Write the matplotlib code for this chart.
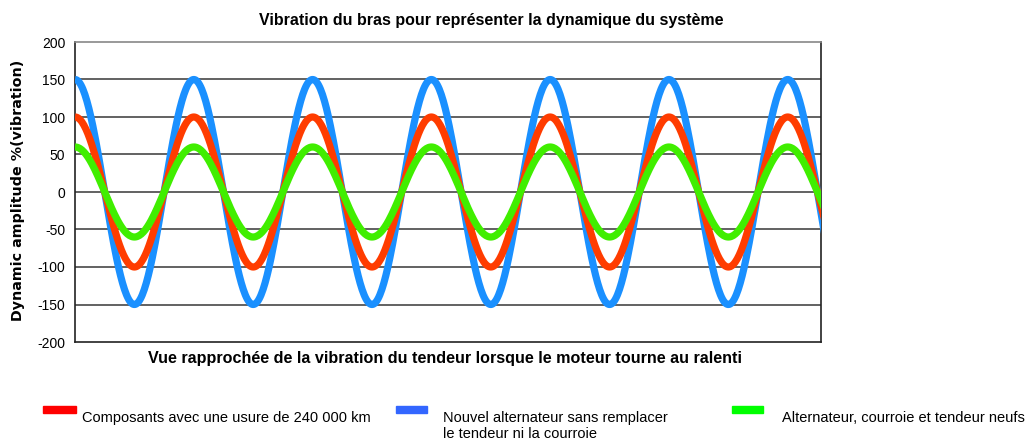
import numpy as np
import matplotlib
matplotlib.use("Agg")
import matplotlib.pyplot as plt
from matplotlib.patches import Rectangle

# ---- data ----
series_labels = ["Composants avec une usure de 240 000 km",
                 "Nouvel alternateur sans remplacer\nle tendeur ni la courroie",
                 "Alternateur, courroie et tendeur neufs"]
# extreme values (peak / trough) of each wave, one per half cycle, starting at a peak
red_extrema = [100, -100, 100, -100, 100, -100, 100, -100, 100, -100, 100, -100, 100, -100]
blue_extrema = [150, -150, 150, -150, 150, -150, 150, -150, 150, -150, 150, -150, 150, -150]
green_extrema = [60, -60, 60, -60, 60, -60, 60, -60, 60, -60, 60, -60, 60, -60]
cycles_shown = 6.28
y_ticks = [200, 150, 100, 50, 0, -50, -100, -150, -200]
grid_levels = [150, 100, 50, 0, -50, -100, -150]

line_colors = ["#ff3c00", "#1a90ff", "#40ee00"]
legend_colors = ["#ff0000", "#3366ff", "#00ff00"]

plt.rcParams['font.family'] = ['Liberation Sans', 'DejaVu Sans']

W, H = 1033, 440
fig = plt.figure(figsize=(W / 100, H / 100), dpi=100)
ax = fig.add_axes([75 / W, 1 - 342 / H, (821 - 75) / W, 300 / H])


def wave(extrema, n=60):
    xs, ys = [], []
    for i in range(len(extrema) - 1):
        a, b = extrema[i], extrema[i + 1]
        t = np.linspace(0, 1, n, endpoint=False)
        xs.append(0.5 * (i + t))
        ys.append((a + b) / 2 + (a - b) / 2 * np.cos(np.pi * t))
    xs.append([0.5 * (len(extrema) - 1)])
    ys.append([extrema[-1]])
    return np.concatenate(xs), np.concatenate(ys)


for lvl in grid_levels:
    ax.axhline(lvl, color="#555555", lw=1.3, zorder=1)

for ext, col in [(blue_extrema, line_colors[1]), (red_extrema, line_colors[0]),
                 (green_extrema, line_colors[2])]:
    x, y = wave(ext)
    ax.plot(x, y, color=col, lw=5.2, solid_capstyle="butt", zorder=3)

ax.set_xlim(0, cycles_shown)
ax.set_ylim(-200, 200)
ax.set_xticks([])
ax.set_yticks(y_ticks)
ax.set_yticklabels([str(v) for v in y_ticks], fontsize=10)
ax.tick_params(axis="y", length=0, pad=7)
for s in ["left", "bottom", "right"]:
    ax.spines[s].set_color("#222222")
    ax.spines[s].set_linewidth(1.2)
ax.spines["top"].set_color("#888888")
ax.spines["top"].set_linewidth(1.2)

fig.text(18 / W, 1 - 190 / H, "Dynamic amplitude %(vibration)", rotation=90,
         ha="center", va="center", fontsize=10.3, fontweight="bold",
         family="DejaVu Sans")

fig.text(491 / W, 1 - 20 / H, "Vibration du bras pour représenter la dynamique du système",
         ha="center", va="center", fontsize=11.5, fontweight="bold")
fig.text(445 / W, 1 - 358 / H,
         "Vue rapprochée de la vibration du tendeur lorsque le moteur tourne au ralenti",
         ha="center", va="center", fontsize=11.6, fontweight="bold")

# legend
leg_patch_x = [43, 396, 732]
leg_patch_w = [33, 31, 31]
leg_text_x = [82, 443, 782]
for i in range(3):
    fig.patches.append(Rectangle((leg_patch_x[i] / W, 1 - 413 / H), leg_patch_w[i] / W, 7 / H,
                                 transform=fig.transFigure, color=legend_colors[i]))
    fig.text(leg_text_x[i] / W, 1 - 422 / H, series_labels[i].split("\n")[0], ha="left",
             va="baseline", fontsize=10.5)
    if "\n" in series_labels[i]:
        fig.text(leg_text_x[i] / W, 1 - 438 / H, series_labels[i].split("\n")[1], ha="left",
                 va="baseline", fontsize=10.5)

fig.savefig("out.png", dpi=100, facecolor="white")
